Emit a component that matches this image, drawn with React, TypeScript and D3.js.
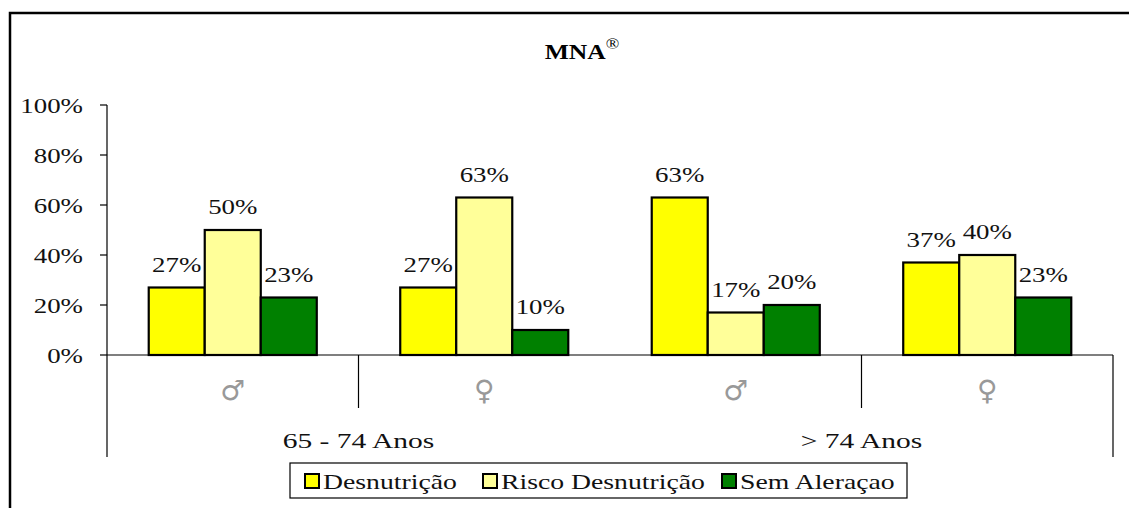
import React, { useRef, useEffect } from 'react';
import * as d3 from 'd3';

const groups = ['♂', '♀', '♂', '♀'];
const ageGroups = ['65 - 74 Anos', '> 74 Anos'];
const seriesNames = ['Desnutrição', 'Risco Desnutrição', 'Sem Aleraçao'];
const seriesColors = ['#ffff00', '#ffff99', '#008000'];
const desnutricao = [27, 27, 63, 37];
const risco = [50, 63, 17, 40];
const semAlteracao = [23, 10, 20, 23];
const yTicks = [0, 20, 40, 60, 80, 100];

const FONT = '"Liberation Serif", "Times New Roman", serif';
const SX = 1.28;

const App = () => {
  const ref = useRef(null);

  useEffect(() => {
    const width = 1129;
    const height = 508;
    const svg = d3.select(ref.current).attr('width', width).attr('height', height);
    svg.selectAll('*').remove();

    const series = [desnutricao, risco, semAlteracao];

    // outer frame (cut off at right / bottom)
    svg.append('rect')
      .attr('x', 10).attr('y', 13)
      .attr('width', 1200).attr('height', 600)
      .attr('fill', 'white').attr('stroke', '#000').attr('stroke-width', 2.5);

    const stretched = (sel, x, y, s = SX) => sel.attr('transform', `translate(${x},${y}) scale(${s},1)`);

    // title
    const title = svg.append('text')
      .attr('font-family', FONT).attr('font-size', 20).attr('font-weight', 'bold')
      .attr('text-anchor', 'middle');
    title.append('tspan').text('MNA');
    title.append('tspan').attr('font-size', 14).attr('font-weight', 'normal').attr('dy', -10).text('®');
    stretched(title, 582, 59);

    const x0 = d3.scaleBand().domain(d3.range(groups.length)).range([107, 1113]).padding(0);
    const x1 = d3.scaleBand().domain(d3.range(series.length))
      .range([0, x0.bandwidth()]).paddingInner(0).paddingOuter(0.745);
    const y = d3.scaleLinear().domain([0, 100]).range([355, 105]);

    // y axis
    svg.append('line')
      .attr('x1', 107).attr('x2', 107).attr('y1', y(100)).attr('y2', y(0))
      .attr('stroke', '#000').attr('stroke-width', 1.2);
    yTicks.forEach(t => {
      svg.append('line')
        .attr('x1', 100).attr('x2', 107).attr('y1', y(t)).attr('y2', y(t))
        .attr('stroke', '#000').attr('stroke-width', 1.2);
      const lbl = svg.append('text')
        .attr('font-family', FONT).attr('font-size', 21).attr('fill', '#111')
        .attr('text-anchor', 'end').text(t + '%');
      stretched(lbl, 83, y(t) + 8);
    });

    // x axis and category separators
    svg.append('line')
      .attr('x1', 107).attr('x2', 1113).attr('y1', y(0)).attr('y2', y(0))
      .attr('stroke', '#000').attr('stroke-width', 1.2);
    const seps = [
      [x0(0), 457], [x0(1), 408], [x0(3), 408], [x0(3) + x0.bandwidth(), 457]
    ];
    seps.forEach(([sx, y2]) => {
      svg.append('line')
        .attr('x1', sx).attr('x2', sx).attr('y1', y(0)).attr('y2', y2)
        .attr('stroke', '#000').attr('stroke-width', 1.2);
    });

    // bars
    groups.forEach((g, gi) => {
      series.forEach((s, si) => {
        const bx = x0(gi) + x1(si);
        svg.append('rect')
          .attr('x', bx).attr('y', y(s[gi]))
          .attr('width', x1.bandwidth()).attr('height', y(0) - y(s[gi]))
          .attr('fill', seriesColors[si]).attr('stroke', '#000').attr('stroke-width', 2.2);
        const lbl = svg.append('text')
          .attr('font-family', FONT).attr('font-size', 21).attr('fill', '#111')
          .attr('text-anchor', 'middle').text(s[gi] + '%');
        stretched(lbl, bx + x1.bandwidth() / 2, y(s[gi]) - 16);
      });
      svg.append('text')
        .attr('x', x0(gi) + x0.bandwidth() / 2).attr('y', 400)
        .attr('font-family', '"DejaVu Sans", sans-serif').attr('font-size', 28)
        .attr('fill', '#999').attr('text-anchor', 'middle').text(g);
    });

    ageGroups.forEach((a, ai) => {
      const cx = x0(ai * 2) + x0.bandwidth();
      const lbl = svg.append('text')
        .attr('font-family', FONT).attr('font-size', 22).attr('fill', '#111')
        .attr('text-anchor', 'middle').text(a);
      stretched(lbl, cx, 448, 1.34);
    });

    // legend
    svg.append('rect')
      .attr('x', 290).attr('y', 463).attr('width', 617).attr('height', 35)
      .attr('fill', 'white').attr('stroke', '#000').attr('stroke-width', 1.2);
    const legendX = [305, 483, 722];
    seriesNames.forEach((n, i) => {
      svg.append('rect')
        .attr('x', legendX[i]).attr('y', 474).attr('width', 14).attr('height', 14)
        .attr('fill', seriesColors[i]).attr('stroke', '#000').attr('stroke-width', 2);
      const lbl = svg.append('text')
        .attr('font-family', FONT).attr('font-size', 21).attr('fill', '#111')
        .text(n);
      stretched(lbl, legendX[i] + 18, 489, 1.32);
    });
  }, []);

  return <svg ref={ref} style={{ position: 'absolute', left: 0, top: 0 }} />;
};

export default App;
